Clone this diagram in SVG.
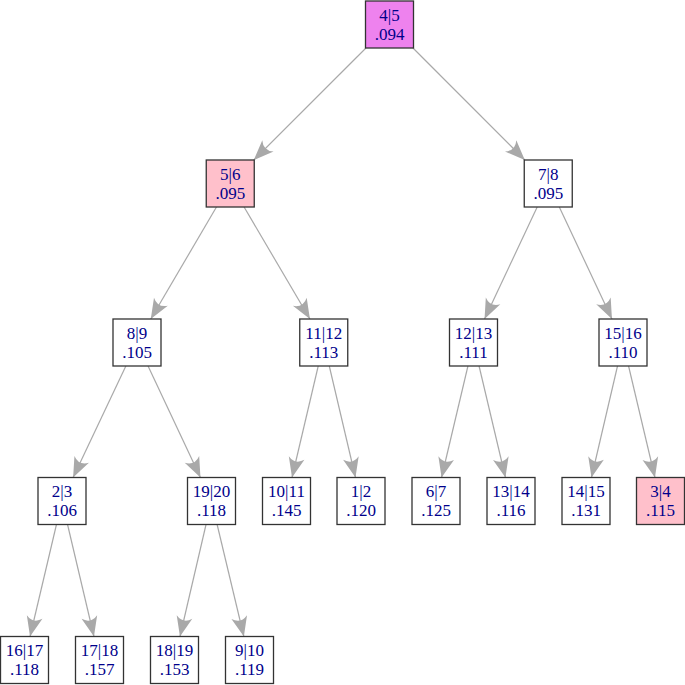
<svg xmlns="http://www.w3.org/2000/svg" width="685" height="685" viewBox="0 0 685 685">
<defs>
<marker id="ah" markerUnits="userSpaceOnUse" markerWidth="26" markerHeight="20" viewBox="-22 -10 24 20" refX="0" refY="0" orient="auto">
<path d="M0,0 L-20,-8 Q-13,0 -20,8 Z" fill="#A9A9A9"/>
</marker>
<style>
.n rect{fill:#fff;stroke:#333;stroke-width:1.3}
.n text{font-family:'Liberation Serif','Times New Roman',serif;font-size:17px;fill:#00008B;text-anchor:middle}
.v rect{fill:#EE82EE}
.p rect{fill:#FFC0CB}
#edges line{stroke:#A9A9A9;stroke-width:1.2;marker-end:url(#ah)}
</style>
</defs>
<rect width="685" height="685" fill="#fff"/>
<g id="edges">
<line x1="365.96" y1="48" x2="253.79" y2="160"/>
<line x1="412.96" y1="48" x2="524.79" y2="160"/>
<line x1="216.47" y1="207" x2="150.78" y2="319"/>
<line x1="244.07" y1="207" x2="309.93" y2="319"/>
<line x1="537.2" y1="207" x2="484.55" y2="319"/>
<line x1="559.3" y1="207" x2="611.95" y2="319"/>
<line x1="125.88" y1="366" x2="73.12" y2="477.5"/>
<line x1="148.05" y1="366" x2="200.45" y2="477.5"/>
<line x1="318.23" y1="366" x2="292.02" y2="477.5"/>
<line x1="329.27" y1="366" x2="355.48" y2="477.5"/>
<line x1="467.94" y1="366" x2="441.56" y2="477.5"/>
<line x1="479.06" y1="366" x2="505.44" y2="477.5"/>
<line x1="617.51" y1="366" x2="591.49" y2="477.5"/>
<line x1="628.56" y1="366" x2="654.94" y2="477.5"/>
<line x1="56.46" y1="524.5" x2="30.04" y2="636.5"/>
<line x1="67.54" y1="524.5" x2="93.96" y2="636.5"/>
<line x1="206.03" y1="524.5" x2="179.97" y2="636.5"/>
<line x1="217.12" y1="524.5" x2="243.88" y2="636.5"/>
</g>
<g font-family="Liberation Serif, Times New Roman, serif">
<g id="n45" class="n v"><rect x="365.5" y="1" width="48" height="47"/><text x="389.5" y="20.5">4|5</text><text x="389.5" y="39.5">.094</text></g>
<g id="n56" class="n p"><rect x="206.25" y="160" width="48" height="47"/><text x="230.25" y="179.5">5|6</text><text x="230.25" y="198.5">.095</text></g>
<g id="n78" class="n"><rect x="524.25" y="160" width="48" height="47"/><text x="548.25" y="179.5">7|8</text><text x="548.25" y="198.5">.095</text></g>
<g id="n89" class="n"><rect x="113" y="319" width="48" height="47"/><text x="137" y="338.5">8|9</text><text x="137" y="357.5">.105</text></g>
<g id="n1112" class="n"><rect x="299.75" y="319" width="48" height="47"/><text x="323.75" y="338.5">11|12</text><text x="323.75" y="357.5">.113</text></g>
<g id="n1213" class="n"><rect x="449.5" y="319" width="48" height="47"/><text x="473.5" y="338.5">12|13</text><text x="473.5" y="357.5">.111</text></g>
<g id="n1516" class="n"><rect x="599" y="319" width="48" height="47"/><text x="623" y="338.5">15|16</text><text x="623" y="357.5">.110</text></g>
<g id="n23" class="n"><rect x="38" y="477.5" width="48" height="47"/><text x="62" y="497">2|3</text><text x="62" y="516">.106</text></g>
<g id="n1920" class="n"><rect x="187.5" y="477.5" width="48" height="47"/><text x="211.5" y="497">19|20</text><text x="211.5" y="516">.118</text></g>
<g id="n1011" class="n"><rect x="262.5" y="477.5" width="48" height="47"/><text x="286.5" y="497">10|11</text><text x="286.5" y="516">.145</text></g>
<g id="n12" class="n"><rect x="337" y="477.5" width="48" height="47"/><text x="361" y="497">1|2</text><text x="361" y="516">.120</text></g>
<g id="n67" class="n"><rect x="412" y="477.5" width="48" height="47"/><text x="436" y="497">6|7</text><text x="436" y="516">.125</text></g>
<g id="n1314" class="n"><rect x="487" y="477.5" width="48" height="47"/><text x="511" y="497">13|14</text><text x="511" y="516">.116</text></g>
<g id="n1415" class="n"><rect x="562" y="477.5" width="48" height="47"/><text x="586" y="497">14|15</text><text x="586" y="516">.131</text></g>
<g id="n34" class="n p"><rect x="636.5" y="477.5" width="48" height="47"/><text x="660.5" y="497">3|4</text><text x="660.5" y="516">.115</text></g>
<g id="n1617" class="n"><rect x="0.5" y="636.5" width="48" height="47"/><text x="24.5" y="656">16|17</text><text x="24.5" y="675">.118</text></g>
<g id="n1718" class="n"><rect x="75.5" y="636.5" width="48" height="47"/><text x="99.5" y="656">17|18</text><text x="99.5" y="675">.157</text></g>
<g id="n1819" class="n"><rect x="150.5" y="636.5" width="48" height="47"/><text x="174.5" y="656">18|19</text><text x="174.5" y="675">.153</text></g>
<g id="n910" class="n"><rect x="225.5" y="636.5" width="48" height="47"/><text x="249.5" y="656">9|10</text><text x="249.5" y="675">.119</text></g>
</g>
</svg>
